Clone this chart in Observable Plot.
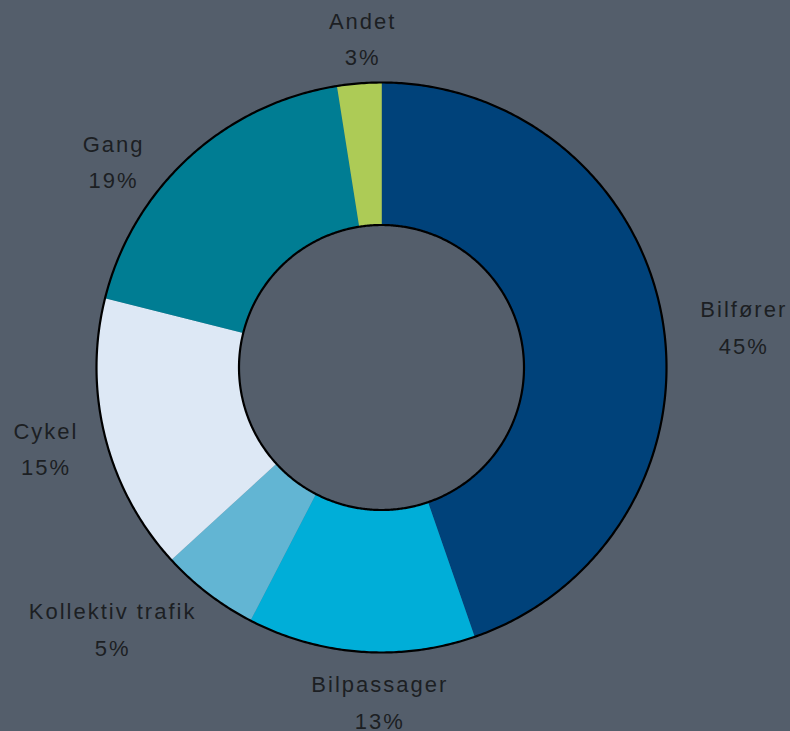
<!DOCTYPE html>
<html><head><meta charset="utf-8">
<script src="https://cdn.jsdelivr.net/npm/d3@7"></script>
<script src="https://cdn.jsdelivr.net/npm/@observablehq/plot@0.6"></script>
<style>html,body{margin:0;padding:0;background:#545e6b;overflow:hidden;}</style>
</head><body><div id="chart"></div>
<script>
const categories = ["Bilfører", "Bilpassager", "Kollektiv trafik", "Cykel", "Gang", "Andet"];
const shares = [44.7, 12.9, 5.6, 15.7, 18.6, 2.5];
const shareLabels = ["45%", "13%", "5%", "15%", "19%", "3%"];
const colors = ["#00427a", "#00aed8", "#62b5d3", "#dde8f5", "#007d93", "#adcb56"];

// layout
const W = 790, H = 731, cx = 381, cy = 367, R = 285, innerRatio = 0.5;
const fontSize = 22, letterSpacing = 2, lineH = 36.5, labelRadius = 1.2;
// manual label nudges in px (as placed in the original chart)
const labelNudge = [[25, 13], [23, -10], [-61, -13], [-4, -6], [-37, 43], [8, 9]];

const pie = d3.pie().sort(null).value(d => d.share)(
  categories.map((c, i) => ({category: c, share: shares[i], label: shareLabels[i]})));

const slices = [];
pie.forEach(p => {
  const n = Math.max(2, Math.ceil((p.endAngle - p.startAngle) / 0.004));
  const ang = k => p.startAngle + (p.endAngle - p.startAngle) * k / n;
  for (let k = 0; k <= n; k++) slices.push({category: p.data.category, x: Math.sin(ang(k)), y: Math.cos(ang(k))});
  for (let k = n; k >= 0; k--) slices.push({category: p.data.category, x: innerRatio * Math.sin(ang(k)), y: innerRatio * Math.cos(ang(k))});
});

const rings = [];
[1, innerRatio].forEach(r => {
  for (let k = 0; k <= 720; k++) {
    const a = 2 * Math.PI * k / 720;
    rings.push({r, x: r * Math.sin(a), y: r * Math.cos(a)});
  }
});

const labels = pie.map(p => {
  const m = (p.startAngle + p.endAngle) / 2;
  return {text: p.data.category + "\n" + p.data.label, x: labelRadius * Math.sin(m), y: labelRadius * Math.cos(m)};
});

const chart = Plot.plot({
  width: W, height: H,
  margin: 0,
  x: {domain: [-cx / R, (W - cx) / R], range: [0, W], axis: null},
  y: {domain: [-(H - cy) / R, cy / R], range: [H, 0], axis: null},
  color: {domain: categories, range: colors},
  style: {background: "#545e6b", fontFamily: '"Liberation Sans", Arial, sans-serif', letterSpacing: letterSpacing + "px"},
  marks: [
    Plot.line(slices, {x: "x", y: "y", z: "category", fill: "category", stroke: "category", strokeWidth: 0.5, curve: "linear"}),
    Plot.line(rings, {x: "x", y: "y", z: "r", stroke: "#000", strokeWidth: 2.2, fill: "none"}),
    ...labels.map((l, i) => Plot.text([l], {
      x: "x", y: "y", text: "text", fontSize, lineHeight: lineH / fontSize,
      fill: "#1c1f23", textAnchor: "middle", dx: labelNudge[i][0], dy: labelNudge[i][1]
    }))
  ]
});
document.getElementById("chart").appendChild(chart);
</script>
</body></html>
